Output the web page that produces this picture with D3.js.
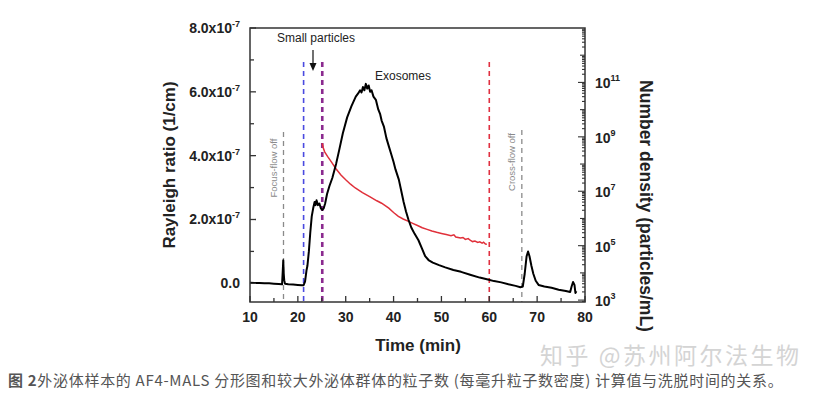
<!DOCTYPE html>
<html>
<head>
<meta charset="utf-8">
<script src="https://cdn.jsdelivr.net/npm/d3@7"></script>
<style>
  body { margin: 0; background: #fff; }
  svg { display: block; }
</style>
</head>
<body>
<script>
const W = 822, H = 393;

// ----- DATA -----
// Rayleigh ratio, units of 1e-7 /cm
const rayTime = [10, 11, 12, 13, 14, 15, 16, 16.7, 16.85, 16.95, 17.05, 17.15, 17.3, 18, 19, 20, 20.8, 21.2,
  21.5, 21.8, 22.0, 22.3, 22.6, 22.9, 23.2, 23.5, 23.7, 23.9, 24.2, 24.5, 24.8, 25.1, 25.4, 25.7, 26.1, 26.6,
  27.2, 28, 28.6, 29.4, 30.3, 31.2, 32.1, 32.6, 33.0, 33.3, 33.6, 33.9, 34.2, 34.5, 34.8, 35.1, 35.4, 35.8,
  36.3, 36.8, 37.2, 37.5, 38.0, 38.5, 39.0, 39.5, 40.0, 40.4, 41.1, 41.6, 42.1, 42.6, 43.1, 43.7, 44.4, 45.2,
  45.9, 46.6, 47.3, 48.2, 49.5, 50.8, 52.5, 54.1, 56, 58, 59.7, 61, 62.5, 64, 65.5, 66.5, 67.0, 67.4, 67.8,
  68.1, 68.4, 68.8, 69.2, 69.7, 70.3, 71.5, 73, 74.5, 76, 76.9, 77.2, 77.5, 77.8, 78.0, 78.2];
const rayValue = [0.02, 0.01, 0.01, 0.0, 0.0, -0.01, -0.02, -0.03, 0.4, 0.72, 0.3, 0.1, -0.01, -0.03, -0.04, -0.05, -0.06, -0.06,
  0.05, 0.4, 0.55, 1.0, 1.6, 2.1, 2.35, 2.55, 2.45, 2.6, 2.45, 2.5, 2.35, 2.3, 2.35, 2.5, 2.8, 3.05,
  3.3, 3.75, 4.15, 4.7, 5.2, 5.55, 5.85, 5.95, 6.05, 5.98, 6.15, 6.05, 6.25, 6.1, 6.2, 6.0, 6.05, 5.85,
  5.75, 5.45, 5.3, 5.1, 4.9, 4.55, 4.3, 4.05, 3.8, 3.57, 3.25, 2.9, 2.55, 2.25, 2.0, 1.75, 1.55, 1.35,
  1.1, 0.85, 0.73, 0.65, 0.57, 0.5, 0.42, 0.36, 0.27, 0.18, 0.12, 0.07, 0.03, -0.03, -0.08, -0.12, -0.1, 0.3, 0.85,
  1.0, 0.85, 0.55, 0.3, 0.08, -0.05, -0.1, -0.14, -0.2, -0.24, -0.27, -0.1, 0.04, -0.05, -0.3, -0.25];

// Number density, log10(particles/mL)
const densTime = [25.1, 25.3, 25.6, 26.2, 27, 28, 29, 30, 31, 32, 33.5, 35, 36.5, 37.5, 39, 40, 41, 42, 43, 44,
  45, 46, 47, 48, 49, 50, 51, 52, 52.6, 53, 54, 54.5, 55, 55.6, 56, 56.5, 57, 57.6, 58, 58.5, 58.8, 59.2, 59.5];
const densLog = [8.76, 8.6, 8.45, 8.28, 8.08, 7.82, 7.6, 7.42, 7.26, 7.12, 6.95, 6.8, 6.65, 6.56, 6.38, 6.22, 6.08, 5.98, 5.9, 5.82,
  5.74, 5.66, 5.6, 5.54, 5.49, 5.45, 5.41, 5.37, 5.4, 5.32, 5.28, 5.3, 5.23, 5.26, 5.2, 5.15, 5.17, 5.12, 5.14, 5.09, 5.13, 5.06, 5.05];

// vertical markers
const markTime = [17, 21.2, 25.1, 60, 66.8];
const markTop = [132, 62, 62, 62, 130];
const markColor = ["#8a8a8a", "#4a4ae0", "#8b2a8f", "#e03040", "#8a8a8a"];
const markWidth = [1.3, 1.6, 2.6, 1.6, 1.3];

const xTicks = [10, 20, 30, 40, 50, 60, 70, 80];
const yTicks = [0, 2, 4, 6, 8];
const yLabels = ["0.0", "2.0x10", "4.0x10", "6.0x10", "8.0x10"];
const rTicks = [3, 5, 7, 9, 11];

// ----- SCALES -----
const pLeft = 250, pRight = 585, pTop = 28, pBottom = 302;
const x = d3.scaleLinear().domain([10, 80]).range([pLeft, pRight]);
const y = d3.scaleLinear().domain([-0.585, 8]).range([pBottom, pTop]);
const yr = d3.scaleLog().domain([Math.pow(10, 2.93), 1e13]).range([pBottom, pTop]);

const svg = d3.select("body").append("svg").attr("width", W).attr("height", H);
const font = "'Liberation Sans', Arial, sans-serif";
const axisCol = "#333";

// ----- MARKER LINES -----
svg.append("g").selectAll("line").data(markTime).enter().append("line")
  .attr("x1", d => x(d)).attr("x2", d => x(d))
  .attr("y1", (d, i) => markTop[i]).attr("y2", pBottom)
  .attr("stroke", (d, i) => markColor[i])
  .attr("stroke-width", (d, i) => markWidth[i])
  .attr("stroke-dasharray", "5,4");

// rotated marker labels
svg.append("text").attr("transform", `translate(${x(17) - 7},168) rotate(-90)`)
  .attr("text-anchor", "middle").attr("font-family", font).attr("font-size", 9.5)
  .attr("fill", "#8a8a8a").text("Focus-flow off");
svg.append("text").attr("transform", `translate(${x(66.8) - 7},162) rotate(-90)`)
  .attr("text-anchor", "middle").attr("font-family", font).attr("font-size", 9.5)
  .attr("fill", "#8a8a8a").text("Cross-flow off");

// ----- CURVES -----
const redLine = d3.line().x(d => x(d[0])).y(d => yr(Math.pow(10, d[1])));
svg.append("path").datum(densTime.map((t, i) => [t, densLog[i]]))
  .attr("d", redLine).attr("fill", "none").attr("stroke", "#e0303a").attr("stroke-width", 1.5);

const blackLine = d3.line().x(d => x(d[0])).y(d => y(d[1]));
svg.append("path").datum(rayTime.map((t, i) => [t, rayValue[i]]))
  .attr("d", blackLine).attr("fill", "none").attr("stroke", "#000")
  .attr("stroke-width", 2).attr("stroke-linejoin", "round");

// ----- FRAME -----
svg.append("rect").attr("x", pLeft).attr("y", pTop)
  .attr("width", pRight - pLeft).attr("height", pBottom - pTop)
  .attr("fill", "none").attr("stroke", axisCol).attr("stroke-width", 1.5);

// x ticks (inward)
const xAll = d3.range(10, 81, 5);
svg.append("g").selectAll("line").data(xAll).enter().append("line")
  .attr("x1", d => x(d)).attr("x2", d => x(d))
  .attr("y1", pBottom).attr("y2", d => pBottom - (d % 10 === 0 ? 6 : 4))
  .attr("stroke", axisCol).attr("stroke-width", 1.3);
svg.append("g").selectAll("text").data(xTicks).enter().append("text")
  .attr("x", d => x(d)).attr("y", 322).attr("text-anchor", "middle")
  .attr("font-family", font).attr("font-weight", "bold").attr("font-size", 14)
  .attr("fill", "#222").text(d => d);

// left ticks
const yAll = d3.range(0, 9, 1);
svg.append("g").selectAll("line").data(yAll).enter().append("line")
  .attr("x1", pLeft).attr("x2", d => pLeft + (d % 2 === 0 ? 6 : 4))
  .attr("y1", d => y(d)).attr("y2", d => y(d))
  .attr("stroke", axisCol).attr("stroke-width", 1.3);
const yl = svg.append("g").selectAll("text").data(yTicks).enter().append("text")
  .attr("x", 240).attr("y", d => y(d) + 5).attr("text-anchor", "end")
  .attr("font-family", font).attr("font-weight", "bold").attr("font-size", 14)
  .attr("fill", "#222");
yl.append("tspan").text((d, i) => yLabels[i]);
yl.filter(d => d !== 0).append("tspan").attr("dy", -6).attr("font-size", 9).text("-7");

// right ticks (log)
const rMinor = [];
for (let e = 2; e <= 12; e++) for (let m = 1; m < 10; m++) {
  const v = m * Math.pow(10, e);
  if (v >= yr.domain()[0] && v <= 1e13) rMinor.push({v: v, m: m, e: e});
}
svg.append("g").selectAll("line").data(rMinor).enter().append("line")
  .attr("x1", pRight).attr("x2", d => pRight - (d.m === 1 ? (d.e % 2 === 1 ? 7 : 5) : 3))
  .attr("y1", d => yr(d.v)).attr("y2", d => yr(d.v))
  .attr("stroke", axisCol).attr("stroke-width", 1.1);
const rl = svg.append("g").selectAll("text").data(rTicks).enter().append("text")
  .attr("x", 595).attr("y", d => yr(Math.pow(10, d)) + 6)
  .attr("font-family", font).attr("font-weight", "bold").attr("font-size", 14)
  .attr("fill", "#222");
rl.append("tspan").text("10");
rl.append("tspan").attr("dy", -7).attr("font-size", 9).text(d => d);

// ----- AXIS TITLES -----
svg.append("text").attr("transform", "translate(175,165) rotate(-90)")
  .attr("text-anchor", "middle").attr("font-family", font).attr("font-weight", "bold")
  .attr("font-size", 17).attr("fill", "#222").text("Rayleigh ratio (1/cm)");
svg.append("text").attr("transform", "translate(640,206) rotate(90)")
  .attr("text-anchor", "middle").attr("font-family", font).attr("font-weight", "bold")
  .attr("font-size", 17.5).attr("fill", "#222").text("Number density (particles/mL)");
svg.append("text").attr("x", 418).attr("y", 351).attr("text-anchor", "middle")
  .attr("font-family", font).attr("font-weight", "bold").attr("font-size", 17)
  .attr("fill", "#222").text("Time (min)");

// ----- ANNOTATIONS -----
svg.append("text").attr("x", 316).attr("y", 42).attr("text-anchor", "middle")
  .attr("font-family", font).attr("font-size", 12).attr("fill", "#222").text("Small particles");
svg.append("line").attr("x1", 313).attr("x2", 313).attr("y1", 50).attr("y2", 64)
  .attr("stroke", "#111").attr("stroke-width", 1.2);
svg.append("path").attr("d", "M309.5,63 L316.5,63 L313,71 Z").attr("fill", "#111");
svg.append("text").attr("x", 403).attr("y", 80).attr("text-anchor", "middle")
  .attr("font-family", font).attr("font-size", 12).attr("fill", "#222").text("Exosomes");

// ----- CAPTION & WATERMARK -----
svg.append("text").attr("x", 540).attr("y", 364)
  .attr("font-family", "'Noto Sans CJK SC', sans-serif").attr("font-size", 23)
  .attr("letter-spacing", 2.5).attr("fill", "#d4d4d4").text("知乎 @苏州阿尔法生物");
const cap = svg.append("text").attr("x", 8).attr("y", 386)
  .attr("font-family", "'Noto Sans CJK SC', sans-serif").attr("font-size", 15)
  .attr("letter-spacing", 0.7).attr("fill", "#555");
cap.append("tspan").attr("font-weight", "bold").text("图 2");
cap.append("tspan").text("外泌体样本的 AF4-MALS 分形图和较大外泌体群体的粒子数 (每毫升粒子数密度) 计算值与洗脱时间的关系。");
</script>
</body>
</html>
